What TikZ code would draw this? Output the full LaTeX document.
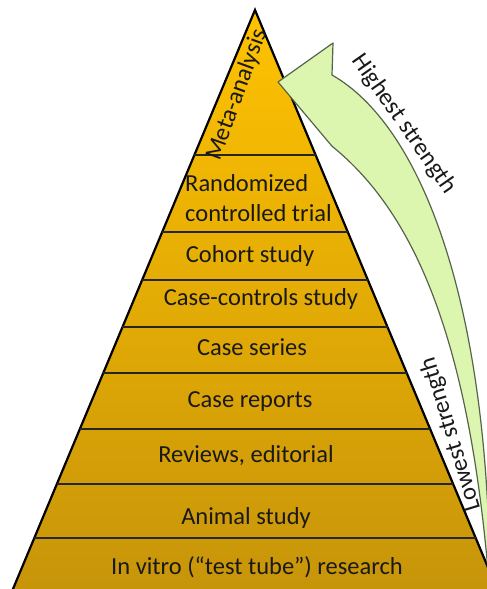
\documentclass[tikz,border=0pt]{standalone}
\usepackage{fontspec}
\setmainfont{Carlito}
\definecolor{OrSommet}{RGB}{255,194,0}
\definecolor{OrBase}{RGB}{198,148,10}
\definecolor{VertFleche}{RGB}{220,246,176}
\definecolor{BordFleche}{RGB}{85,100,75}
\begin{document}
\begin{tikzpicture}[x=1pt,y=-1pt]
		\tikzstyle{pyramide}=[draw=black,line width=2.2pt,line join=miter,top color=OrSommet,bottom color=OrBase]
		\tikzstyle{separation}=[line width=2.6pt,black!85]
		\tikzstyle{etage}=[inner sep=0pt,font=\fontsize{24.5}{30}\selectfont,text=black!90]
		\tikzstyle{fleche}=[fill=VertFleche,draw=BordFleche,line width=1.2pt,line join=round]
		
		\def\Sommet{255}
		\def\Haut{10}
		\def\Pente{0.418}
		\def\Bas{600}
		
		\useasboundingbox (0,0) rectangle (487,589);
		
		\path[pyramide] (\Sommet,\Haut) -- ({\Sommet+\Pente*(\Bas-\Haut)},\Bas) -- ({\Sommet-\Pente*(\Bas-\Haut)},\Bas) -- cycle;
		
		\draw[separation] ({\Sommet-\Pente*(155-\Haut)},155) -- ({\Sommet+\Pente*(155-\Haut)},155);
		\draw[separation] ({\Sommet-\Pente*(232-\Haut)},232) -- ({\Sommet+\Pente*(232-\Haut)},232);
		\draw[separation] ({\Sommet-\Pente*(280-\Haut)},280) -- ({\Sommet+\Pente*(280-\Haut)},280);
		\draw[separation] ({\Sommet-\Pente*(327-\Haut)},327) -- ({\Sommet+\Pente*(327-\Haut)},327);
		\draw[separation] ({\Sommet-\Pente*(373-\Haut)},373) -- ({\Sommet+\Pente*(373-\Haut)},373);
		\draw[separation] ({\Sommet-\Pente*(429-\Haut)},429) -- ({\Sommet+\Pente*(429-\Haut)},429);
		\draw[separation] ({\Sommet-\Pente*(484-\Haut)},484) -- ({\Sommet+\Pente*(484-\Haut)},484);
		\draw[separation] ({\Sommet-\Pente*(538-\Haut)},538) -- ({\Sommet+\Pente*(538-\Haut)},538);
		
		\node[etage,rotate=70] (Meta) at (237,95) {Meta-analysis};
		\node[etage,align=left,anchor=west] (Essai) at (185,198) {Randomized\\controlled trial};
		\node[etage] (Cohorte) at (250,256) {Cohort study};
		\node[etage] (CasTemoins) at (261,299) {Case-controls study};
		\node[etage] (Series) at (252,347) {Case series};
		\node[etage] (Rapports) at (250,402) {Case reports};
		\node[etage] (Revues) at (246,456) {Reviews, editorial};
		\node[etage] (Animal) at (246,518) {Animal study};
		\node[etage] (InVitro) at (257,567) {In vitro (“test tube”) research};
		
		\path[fleche] (490,595) .. controls (490,300) and (420,125) .. (332,75) -- (333,43) -- (278,82) -- (331,145) -- (333,147) .. controls (410,210) and (470,330) .. (490,595) -- cycle;
		
		\node[etage,rotate=-55] (Haute) at (404,124) {Highest strength};
		\node[etage,rotate=107] (Basse) at (451,434) {Lowest strength};
	\end{tikzpicture}
\end{document}
